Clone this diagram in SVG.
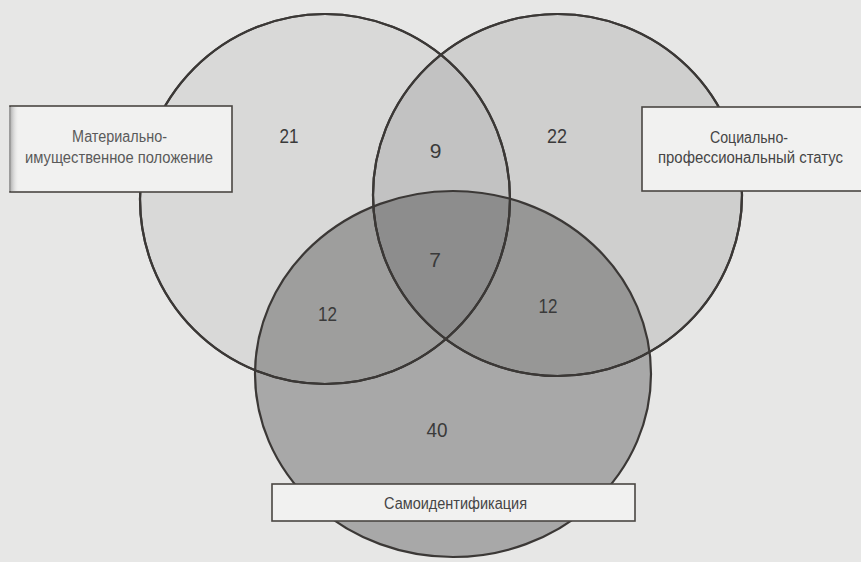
<svg xmlns="http://www.w3.org/2000/svg" width="861" height="562" viewBox="0 0 861 562">
  <defs>
    <linearGradient id="shadow" x1="0" y1="0" x2="1" y2="0">
      <stop offset="0" stop-color="#9a9a9a"/>
      <stop offset="1" stop-color="#efefef" stop-opacity="0"/>
    </linearGradient>
    <style>
      .set { stroke: #3b3836; stroke-width: 2.2; }
      .box { fill: #f1f1f0; stroke: #4a4643; stroke-width: 1.6; }
      .lbl { font-family: "Liberation Sans", Arial, sans-serif; font-size: 16px; fill: #454545; text-anchor: middle; }
      .num { font-family: "Liberation Sans", Arial, sans-serif; font-size: 21px; fill: #3a3a3a; text-anchor: middle; }
    </style>
  </defs>
  <rect x="0" y="0" width="861" height="562" fill="#e7e7e6"/>

  <g id="set-material">
    <circle cx="325" cy="199" r="185" fill="#000" fill-opacity="0.06" class="set"/>
  </g>
  <g id="set-social">
    <ellipse cx="557.5" cy="195" rx="184.5" ry="181" fill="#000" fill-opacity="0.1" class="set"/>
  </g>
  <g id="set-self">
    <ellipse cx="453" cy="374" rx="198" ry="183" fill="#000" fill-opacity="0.27" class="set"/>
  </g>
  <g id="outlines" fill="none">
    <circle cx="325" cy="199" r="185" class="set"/>
    <ellipse cx="557.5" cy="195" rx="184.5" ry="181" class="set"/>
  </g>

  <g id="counts">
    <text class="num" x="289" y="143" textLength="19" lengthAdjust="spacingAndGlyphs">21</text>
    <text class="num" x="557" y="143" textLength="20" lengthAdjust="spacingAndGlyphs">22</text>
    <text class="num" x="435.5" y="158">9</text>
    <text class="num" x="435" y="267">7</text>
    <text class="num" x="327.5" y="321" textLength="19" lengthAdjust="spacingAndGlyphs">12</text>
    <text class="num" x="548" y="313" textLength="19" lengthAdjust="spacingAndGlyphs">12</text>
    <text class="num" x="437" y="437" textLength="21" lengthAdjust="spacingAndGlyphs">40</text>
  </g>

  <g id="label-material">
    <rect class="box" x="10" y="106" width="222" height="86"/>
    <rect x="9" y="107" width="10" height="84" fill="url(#shadow)"/>
    <text class="lbl" x="119.5" y="142" textLength="95" lengthAdjust="spacingAndGlyphs" fill="#5a5a5a" style="fill:#5a5a5a">Материально-</text>
    <text class="lbl" x="119" y="163" textLength="188" lengthAdjust="spacingAndGlyphs" style="fill:#5a5a5a">имущественное положение</text>
  </g>
  <g id="label-social">
    <rect class="box" x="642" y="107" width="225" height="84"/>
    <text class="lbl" x="749" y="142.5" textLength="78" lengthAdjust="spacingAndGlyphs">Социально-</text>
    <text class="lbl" x="750.5" y="163" textLength="185" lengthAdjust="spacingAndGlyphs">профессиональный статус</text>
  </g>
  <g id="label-self">
    <rect class="box" x="272" y="484" width="363" height="37"/>
    <text class="lbl" x="455.5" y="509" textLength="143" lengthAdjust="spacingAndGlyphs">Самоидентификация</text>
  </g>
</svg>
